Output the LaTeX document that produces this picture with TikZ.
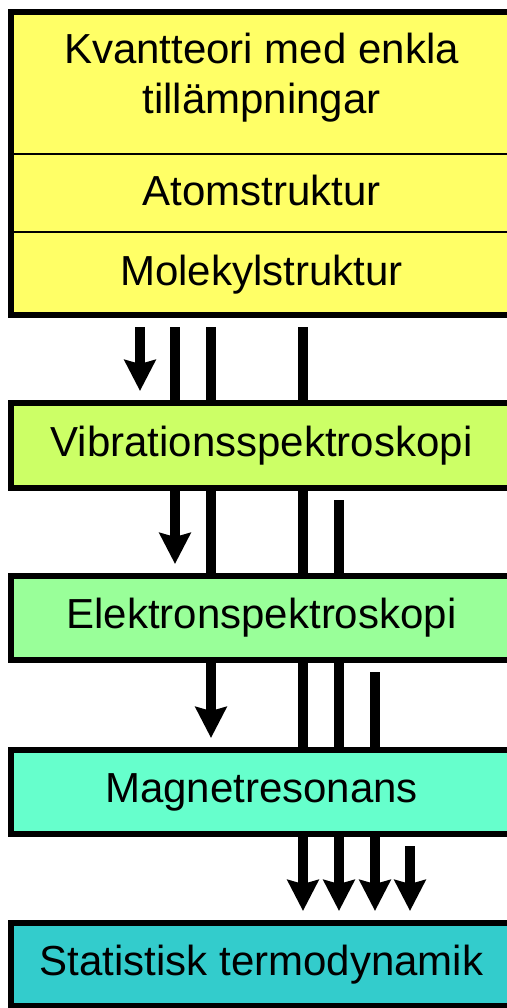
\documentclass[tikz,border=0pt]{standalone}
\usepackage{fontspec}
\setmainfont{Liberation Sans}
\usetikzlibrary{arrows.meta,backgrounds}

\definecolor{quantumyellow}{HTML}{FFFF66}
\definecolor{vibgreen}{HTML}{CCFF66}
\definecolor{elekgreen}{HTML}{99FF99}
\definecolor{magmint}{HTML}{66FFCC}
\definecolor{statteal}{HTML}{33CCCC}

\begin{document}
\begin{tikzpicture}[x=0.5pt, y=-0.5pt,
        block/.style={draw, line width=3pt, minimum width=250.5pt, inner sep=0pt,
            font=\fontsize{21}{25}\selectfont, text height=15pt, text depth=4.5pt},
        label/.style={font=\fontsize{21}{25}\selectfont, inner sep=0pt},
        divider/.style={line width=1pt},
        link/.style={line width=5pt, shorten <=4.5pt},
        feed/.style={link, shorten >=4.5pt,
            -{Stealth[length=15.5pt, width=15.5pt, inset=2pt]}}]
            \useasboundingbox (0, 0) rectangle (507, 1008);
            \clip (0, 0) rectangle (507, 1008);
            % columns of the connectors
            \coordinate (c1) at (140, 0);
            \coordinate (c2) at (175, 0);
            \coordinate (c3) at (211, 0);
            \coordinate (c4) at (303, 0);
            \coordinate (c5) at (339, 0);
            \coordinate (c6) at (375, 0);
            \coordinate (c7) at (410, 0);
            \coordinate (cut1) at (0, 154);
            \coordinate (cut2) at (0, 232);
            % blocks
            \node[block, fill=quantumyellow, minimum height=151.5pt] (top) at (261.5, 163.5) {};
            \draw[divider] (top.west |- cut1) -- (top.east |- cut1);
            \draw[divider] (top.west |- cut2) -- (top.east |- cut2);
            \node[label, align=center] (kvant) at (261.5, 77.5) {
                Kvantteori med enkla\\tillämpningar
            };
            \node[label, anchor=base] (atom) at (261.5, 205) {
                Atomstruktur
            };
            \node[label, anchor=base] (molekyl) at (261.5, 285) {
                Molekylstruktur
            };
            \node[block, fill=vibgreen, minimum height=42.5pt] (vib) at (261.5, 445.5) {
                Vibrationsspektroskopi
            };
            \node[block, fill=elekgreen, minimum height=42pt] (elek) at (261.5, 618) {
                Elektronspektroskopi
            };
            \node[block, fill=magmint, minimum height=42pt] (mag) at (261.5, 792) {
                Magnetresonans
            };
            \node[block, fill=statteal, minimum height=41.5pt] (stat) at (261.5, 964.5) {
                Statistisk termodynamik
            };
            % connectors, behind the blocks
            \begin{pgfonlayer}{background}
                \draw[feed] (c1 |- top.south) -- (c1 |- vib.north);
                \draw[feed] (c2 |- top.south) -- (c2 |- elek.north);
                \draw[feed] (c3 |- top.south) -- (c3 |- mag.north);
                \draw[feed] (c4 |- top.south) -- (c4 |- stat.north);
                \draw[feed] (c5 |- vib.south) -- (c5 |- stat.north);
                \draw[feed] (c6 |- elek.south) -- (c6 |- stat.north);
                \draw[feed] (c7 |- mag.south) -- (c7 |- stat.north);
            \end{pgfonlayer}
        \end{tikzpicture}
\end{document}
